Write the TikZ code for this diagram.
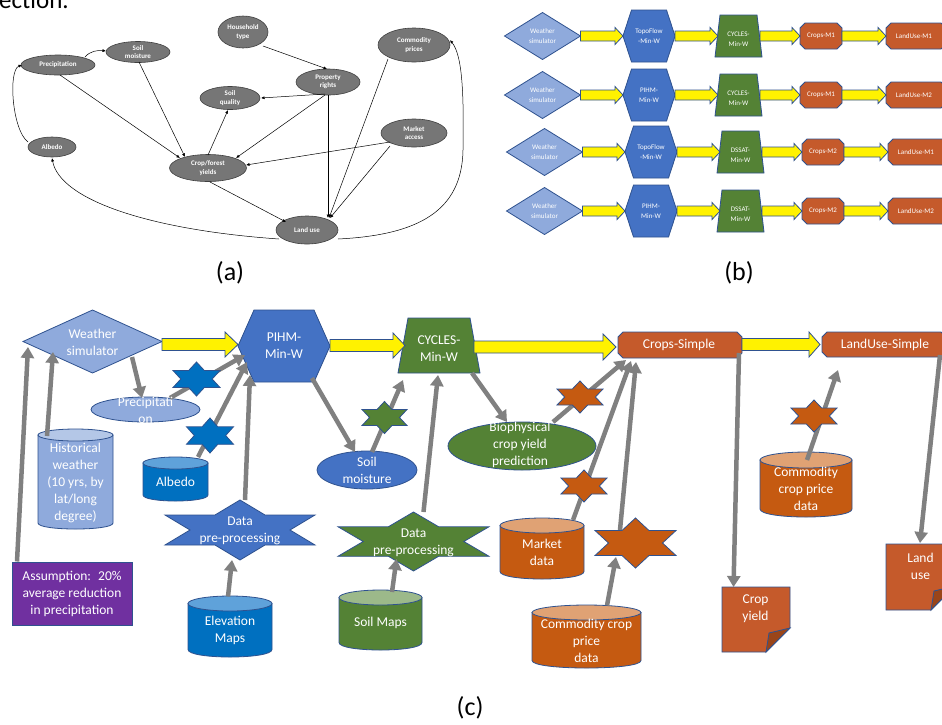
\documentclass[tikz,border=0pt]{standalone}
\usepackage{fontspec}
\setmainfont{Carlito}
\usetikzlibrary{arrows.meta,calc,shapes.geometric}
\definecolor{bord}{HTML}{2F528F}
\definecolor{lblue}{HTML}{8FAADC}
\definecolor{ltop}{HTML}{B4C7E7}
\definecolor{mblue}{HTML}{4472C4}
\definecolor{dblue}{HTML}{0070C0}
\definecolor{dtop}{HTML}{5FA2DA}
\definecolor{grn}{HTML}{548235}
\definecolor{gtop}{HTML}{9CB98A}
\definecolor{orng}{HTML}{C55A11}
\definecolor{obox}{HTML}{C55A2B}
\definecolor{otop}{HTML}{E0A274}
\definecolor{flap}{HTML}{9A4519}
\definecolor{purp}{HTML}{7030A0}
\definecolor{garr}{HTML}{808080}
\definecolor{aell}{HTML}{767676}
\definecolor{aline}{HTML}{404040}
\tikzset{
 shp/.style={draw=bord, line width=0.8pt},
 shpbox/.style={inner sep=0pt, outer sep=0pt, draw=none},
 yel/.style={draw=bord, fill=yellow, line width=0.8pt},
 garrow/.style={draw=garr, line width=4.5pt, -{Triangle[width=13pt,length=11pt]}},
 ctext/.style={text=white, font=\fontsize{13.5}{17}\selectfont, align=center, inner sep=0pt},
 btext/.style={text=white, font=\fontsize{7}{9.5}\selectfont, align=center, inner sep=0pt},
 aellipse/.style={ellipse, draw=aline, fill=aell, line width=0.6pt, inner sep=0pt, text=white, font=\bfseries\fontsize{7}{8.3}\selectfont, align=center},
 aedge/.style={draw=black, line width=0.5pt, -{Latex[length=3.5pt,width=3pt]}},
 panlab/.style={font=\fontsize{26}{30}\selectfont, inner sep=0pt},
}
% shapes, pixel coordinates (x right, y down)
\newcommand\mydiam[6]{%
 \path[shp,fill=#6] (#2-#4/2,#3) -- (#2,#3-#5/2) -- (#2+#4/2,#3) -- (#2,#3+#5/2) -- cycle;
 \node[shpbox,minimum width=#4pt,minimum height=#5pt] (#1) at (#2,#3) {};}
\newcommand\myhex[7]{%
 \path[shp,fill=#7] (#2-#4/2,#3) -- (#2-#6,#3-#5/2) -- (#2+#6,#3-#5/2) -- (#2+#4/2,#3) -- (#2+#6,#3+#5/2) -- (#2-#6,#3+#5/2) -- cycle;
 \node[shpbox,minimum width=#4pt,minimum height=#5pt] (#1) at (#2,#3) {};}
\newcommand\mytrap[7]{%
 \path[shp,fill=#7] (#2-#4,#3-#6/2) -- (#2+#4,#3-#6/2) -- (#2+#5,#3+#6/2) -- (#2-#5,#3+#6/2) -- cycle;
 \node[shpbox,minimum width=2*#5pt,minimum height=#6pt] (#1) at (#2,#3) {};}
\newcommand\myoct[7]{%
 \path[shp,fill=#7] (#2-#4/2+#6,#3-#5/2) -- (#2+#4/2-#6,#3-#5/2) -- (#2+#4/2,#3-#5/2+#6) -- (#2+#4/2,#3+#5/2-#6) -- (#2+#4/2-#6,#3+#5/2) -- (#2-#4/2+#6,#3+#5/2) -- (#2-#4/2,#3+#5/2-#6) -- (#2-#4/2,#3-#5/2+#6) -- cycle;
 \node[shpbox,minimum width=#4pt,minimum height=#5pt] (#1) at (#2,#3) {};}
\newcommand\mystar[6]{%
 \path[shp,fill=#6] (#2,#3-#5/2) -- (#2+#4/6,#3-#5/4) -- (#2+#4/2,#3-#5/4) -- (#2+#4/3,#3) -- (#2+#4/2,#3+#5/4) -- (#2+#4/6,#3+#5/4) -- (#2,#3+#5/2) -- (#2-#4/6,#3+#5/4) -- (#2-#4/2,#3+#5/4) -- (#2-#4/3,#3) -- (#2-#4/2,#3-#5/4) -- (#2-#4/6,#3-#5/4) -- cycle;
 \node[shpbox,minimum width=#4pt,minimum height=#5pt] (#1) at (#2,#3) {};}
\newcommand\mycyl[8]{%
 \path[shp,fill=#7] (#2-#4/2,#3-#5/2+#6) -- (#2-#4/2,#3+#5/2-#6) .. controls (#2-#4/2,#3+#5/2+#6/3) and (#2+#4/2,#3+#5/2+#6/3) .. (#2+#4/2,#3+#5/2-#6) -- (#2+#4/2,#3-#5/2+#6) -- cycle;
 \node[shp,ellipse,fill=#8,inner sep=0pt,minimum width=#4pt,minimum height=2*#6pt] at (#2,#3-#5/2+#6) {};
 \node[shpbox,minimum width=#4pt,minimum height=#5pt] (#1) at (#2,#3) {};}
\newcommand\mydoc[6]{%
 \path[shp,fill=obox] (#2,#3) -- (#4,#3) -- (#4,#5-#6) -- (#4-#6,#5) -- (#2,#5) -- cycle;
 \path[shp,fill=flap] (#4,#5-#6) -- (#4-#6,#5) -- (#4-#6+3,#5-#6+5) -- cycle;
 \node[shpbox,minimum width=#4pt-#2pt,minimum height=#5pt-#3pt] (#1) at ({(#2+#4)/2},{(#3+#5)/2}) {};}
\newcommand\myyarr[6]{%
 \path[yel] let \p1=(#1), \p2=(#2), \p3=(0,#3) in (\x1,\y3+#4pt) -- (\x2-#6pt,\y3+#4pt) -- (\x2-#6pt,\y3+#5pt) -- (\x2,\y3) -- (\x2-#6pt,\y3-#5pt) -- (\x2-#6pt,\y3-#4pt) -- (\x1,\y3-#4pt) -- cycle;}
\begin{document}
\begin{tikzpicture}[x=1pt,y=-1pt]
\useasboundingbox (0,0) rectangle (942,724);
\clip (0,0) rectangle (942,724);
\fill[white] (0,0) rectangle (942,724);

\node[anchor=base west, inner sep=0pt, font=\fontsize{25}{30}\selectfont] (sec) at (-1,8) {ection.};

% ---------------- panel (a)
\node[aellipse, minimum width=50pt, minimum height=32pt] (aht) at (243,32) {Household\\type};
\node[aellipse, minimum width=64pt, minimum height=21pt] (asm) at (138,52) {Soil\\moisture};
\node[aellipse, minimum width=74pt, minimum height=20pt] (apr) at (58,65) {Precipitation};
\node[aellipse, minimum width=72pt, minimum height=34pt] (acp) at (414,45) {Commodity\\prices};
\node[aellipse, minimum width=64pt, minimum height=26pt] (aprt) at (328,82) {Property\\rights};
\node[aellipse, minimum width=60pt, minimum height=23pt] (asq) at (230,98) {Soil\\quality};
\node[aellipse, minimum width=66pt, minimum height=28pt] (ama) at (414,133) {Market\\access};
\node[aellipse, minimum width=48pt, minimum height=20pt] (aal) at (52,147) {Albedo};
\node[aellipse, minimum width=77pt, minimum height=27pt] (acf) at (208,168) {Crop/forest\\yields};
\node[aellipse, minimum width=62pt, minimum height=28pt] (alu) at (307,230) {Land use};

\draw[aedge] ($(apr)+(27,-8)$) .. controls (90,51) and (98,50) .. ($(asm)+(-32,-1)$);
\draw[aedge] ($(aal)+(-24,-5)$) .. controls (12,130) and (8,70) .. ($(apr)+(-36,0)$);
\draw[aedge] ($(apr)+(2,10)$) -- ($(acf)+(-28,-10)$);
\draw[aedge] ($(asm)+(1,10)$) -- ($(acf)+(-23,-11)$);
\draw[aedge] ($(aht)+(20,14)$) -- ($(aprt)+(-1,-13)$);
\draw[aedge] ($(aprt)+(-3,12)$) -- ($(asq)+(31,0)$);
\draw[aedge] ($(aprt)+(-3,13)$) -- ($(acf)+(28,-10)$);
\draw[aedge] ($(aprt)+(0,13)$) -- ($(alu)+(21,-12)$);
\draw[aedge] ($(acf)+(0,-13)$) -- ($(asq)+(-2,12)$);
\draw[aedge] ($(ama)+(-24,9)$) -- ($(acf)+(38,-3)$);
\draw[aedge] ($(ama)+(-24,13)$) -- ($(alu)+(23,-12)$);
\draw[aedge] ($(acp)+(-26,14)$) -- ($(alu)+(22,-12)$);
\draw[aedge] ($(acf)+(2,14)$) -- ($(alu)+(-21,-8)$);
\draw[aedge] ($(alu)+(-28,9)$) .. controls (150,230) and (60,200) .. ($(aal)+(0,11)$);
\draw[aedge] ($(alu)+(31,9)$) .. controls (420,235) and (462,210) .. (463,150) .. controls (464,90) and (462,55) .. ($(acp)+(36,-5)$);

% ---------------- panel (b)
\foreach \rr/\yy/\sh/\hA/\tA/\cA/\lA in {1/36/0/{TopoFlow\\-Min-W}/{CYCLES-\\Min-W}/Crops-M1/LandUse-M1,
  2/95/0/{PIHM-\\Min-W}/{CYCLES-\\Min-W}/Crops-M1/LandUse-M2,
  3/152/2/{TopoFlow\\-Min-W}/{DSSAT-\\Min-W}/Crops-M2/LandUse-M1,
  4/211/2/{PIHM-\\Min-W}/{DSSAT-\\Min-W}/Crops-M2/LandUse-M2}{
 \mydiam{bw\rr}{542.5+\sh}{\yy}{76}{47}{lblue}
 \myhex{bh\rr}{649+\sh}{\yy}{52}{52}{17.5}{mblue}
 \mytrap{bt\rr}{738.5+\sh}{\yy}{18.5}{23.5}{42}{grn}
 \myoct{bc\rr}{821+\sh}{\yy}{42}{26}{5}{obox}
 \myoct{bl\rr}{916+\sh}{\yy}{60}{26}{5}{obox}
 \myyarr{bw\rr.east}{bh\rr.west}{\yy}{5}{8.5}{8}
 \myyarr{bh\rr.east}{$(bt\rr.west)+(3,0)$}{\yy}{5}{8.5}{8}
 \myyarr{$(bt\rr.east)+(-2,0)$}{bc\rr.west}{\yy}{5}{8.5}{8}
 \myyarr{bc\rr.east}{bl\rr.west}{\yy}{5}{8.5}{8}
 \node[btext] (bwt\rr) at (542.5+\sh,\yy) {Weather\\simulator};
 \node[btext] (bht\rr) at (649+\sh,\yy) {\hA};
 \node[btext] (btt\rr) at (738.5+\sh,\yy+3) {\tA};
 \node[btext] (bct\rr) at (821+\sh,\yy) {\cA};
 \node[btext] (blt\rr) at (914+\sh,\yy) {\lA};
}

% ---------------- panel (c): shapes
\mydiam{ws}{92.5}{341.5}{139}{63}{lblue}
\myhex{pihm}{284}{346}{92}{72}{30}{mblue}
\mytrap{cyc}{439}{345.5}{31}{41}{55}{grn}
\myoct{crs}{680}{345}{124}{26}{5}{obox}
\myoct{lus}{884}{344.5}{124}{25}{5}{obox}
\node[shp,ellipse,fill=lblue,inner sep=0pt,minimum width=109pt,minimum height=25pt] (prec) at (145.5,409.5) {};
\mycyl{hist}{75.5}{479}{75}{100}{6}{lblue}{ltop}
\mycyl{alb}{175.5}{479}{65}{44}{6}{dblue}{dtop}
\node[shp,ellipse,fill=mblue,inner sep=0pt,minimum width=100pt,minimum height=38pt] (sm) at (367,470) {};
\node[shp,ellipse,fill=grn,inner sep=0pt,minimum width=148pt,minimum height=48pt] (bio) at (522,446) {};
\mycyl{elev}{230}{626.5}{84}{61}{7.5}{dblue}{dtop}
\mycyl{soil}{380.5}{620}{83}{60}{7.5}{grn}{gtop}
\mycyl{market}{542}{548.5}{84}{61}{7.5}{orng}{otop}
\mycyl{ccpb}{586.5}{636.5}{109}{63}{7.5}{orng}{otop}
\mycyl{ccpr}{806}{484.5}{92}{65}{8}{orng}{otop}
\mydoc{cy}{722}{587}{790}{652}{24}
\mydoc{lud}{886}{544}{955}{610}{24}
\node[shp,fill=purp,minimum width=120pt,minimum height=63pt,ctext] (assump) at (72,593.5) {Assumption:~ 20\%\\average reduction\\in precipitation};
\mystar{big}{635.5}{543}{81}{50}{orng}
\mystar{dpb}{240}{530}{150}{60}{mblue}
\mystar{dpg}{413.5}{541.5}{151}{59}{grn}

% yellow block arrows
\myyarr{ws.east}{pihm.west}{344.5}{6}{12.5}{13}
\myyarr{pihm.east}{$(cyc.west)+(7,0)$}{345.5}{6}{12.5}{12}
\myyarr{$(cyc.east)+(-6,0)$}{$(crs.west)+(-2,0)$}{347}{6}{13}{13}
\myyarr{crs.east}{$(lus.west)+(-2,0)$}{344.5}{6}{12.5}{11}

% grey arrows
\draw[garrow] ($(assump)+(-55,-32)$) -- ($(ws)+(-64.5,5.5)$);
\draw[garrow] ($(hist)+(-28.5,-43)$) -- ($(ws)+(-39.5,10.5)$);
\draw[garrow] ($(ws)+(39.5,15.5)$) -- ($(prec)+(-3.5,-11.5)$);
\draw[garrow] ($(prec)+(24.5,-11.5)$) -- ($(pihm)+(-39,9)$);
\draw[garrow] ($(alb)+(22.5,-22)$) -- ($(pihm)+(-37,16)$);
\draw[garrow] ($(dpb)+(5,-30)$) -- ($(pihm)+(-34,29)$);
\draw[garrow] ($(elev)+(-2,-30)$) -- ($(dpb)+(-8,30)$);
\draw[garrow] ($(pihm)+(28,32)$) -- ($(sm)+(-12,-18)$);
\draw[garrow] ($(sm)+(5,-18)$) -- ($(cyc)+(-36,34.5)$);
\draw[garrow] ($(dpg)+(10,-29.5)$) -- ($(cyc)+(-1,29.5)$);
\draw[garrow] ($(soil)+(11.5,-28)$) -- ($(dpg)+(-17,17.5)$);
\draw[garrow] ($(cyc)+(33,27.5)$) -- ($(bio)+(-15,-24)$);
\draw[garrow] ($(bio)+(31,-24)$) -- ($(crs)+(-54,15)$);
\draw[garrow] ($(market)+(31,-28.5)$) -- ($(crs)+(-49,16)$);
\draw[garrow] ($(ccpb)+(20.5,-31)$) -- ($(big)+(-19.5,14)$);
\draw[garrow] ($(big)+(-15.5,-13)$) -- ($(crs)+(-44,17)$);
\draw[garrow] ($(crs)+(59,8)$) -- ($(cy)+(-22.5,-32.5)$);
\draw[garrow] ($(ccpr)+(1,-24.5)$) -- ($(lus)+(-46,25.5)$);
\draw[garrow] ($(lus)+(56,10.5)$) -- ($(lud)+(-0.5,-34)$);

% small stars on the arrows
\mystar{s1}{196.5}{379}{47}{34}{dblue}
\mystar{s2}{210}{435.5}{47}{35}{dblue}
\mystar{sg}{384.5}{417.5}{45}{32}{grn}
\mystar{so1}{580}{397}{46}{32}{orng}
\mystar{so2}{584}{486}{46}{32}{orng}
\mystar{so3}{814}{416}{46}{32}{orng}

% texts of panel (c)
\node[ctext] (wst) at (92.5,342) {Weather\\simulator};
\node[ctext] (pihmt) at (284,346) {PIHM-\\Min-W};
\node[ctext] (cyct) at (439,349) {CYCLES-\\Min-W};
\node[ctext] (crst) at (679,345) {Crops-Simple};
\node[ctext] (lust) at (885,344.5) {LandUse-Simple};
\node[ctext] (prect) at (145.5,410) {Precipitati\\on};
\node[ctext] (histt) at (75.5,483) {Historical\\weather\\(10 yrs, by\\lat/long\\degree)};
\node[ctext] (albt) at (175.5,482) {Albedo};
\node[ctext] (smt) at (367,470) {Soil\\moisture};
\node[ctext] (biot) at (520,445) {Biophysical\\crop yield\\prediction};
\node[ctext] (dpbt) at (240,530.5) {Data\\pre-processing};
\node[ctext] (dpgt) at (413.5,542.5) {Data\\pre-processing};
\node[ctext] (elevt) at (230,630) {Elevation\\Maps};
\node[ctext] (soilt) at (380.5,623) {Soil Maps};
\node[ctext] (markett) at (542,552) {Market\\data};
\node[ctext] (ccpbt) at (586.5,640.5) {Commodity crop\\price\\data};
\node[ctext] (ccprt) at (806,488.5) {Commodity\\crop price\\data};
\node[ctext] (cyt) at (755.5,608.5) {Crop\\yield};
\node[ctext] (ludt) at (920.5,566) {Land\\use};

% panel labels
\node[panlab] (la) at (230,273) {(a)};
\node[panlab] (lb) at (739,273) {(b)};
\node[panlab] (lc) at (470,708) {(c)};
\end{tikzpicture}
\end{document}
